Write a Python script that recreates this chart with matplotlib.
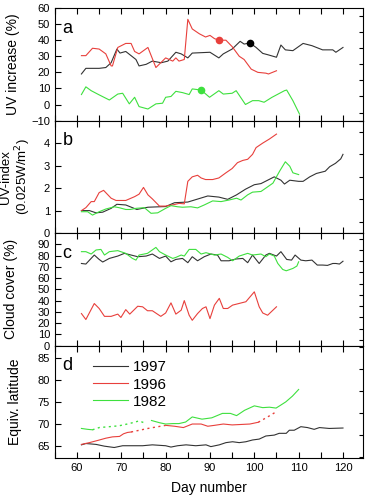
import matplotlib
matplotlib.use("Agg")
import matplotlib.pyplot as plt
from matplotlib.ticker import MultipleLocator

plt.rcParams['font.family'] = ['Liberation Sans', 'DejaVu Sans']

BLACK = '#333333'
RED = '#e8403c'
GREEN = '#3ee03e'

# ---- panel a: UV increase (%)
a_black_day = [61, 62, 65, 66.5, 67.7, 69, 69.7, 71, 73.3, 74, 75.6, 77, 79, 80.5, 82.3, 83.5, 85, 86,
               90, 92, 93, 95, 96.8, 97.7, 99, 100.4, 101.9, 103, 105, 106, 107, 108.7, 111, 113,
               115.4, 117.7, 118.4, 120]
a_black = [19, 22.5, 22.5, 23, 26, 34.5, 32, 33, 28, 24, 25, 27, 26, 27, 32.5, 31.5, 29, 32,
           32.5, 29, 31.5, 34.5, 39.3, 37.6, 38.3, 35.5, 31.8, 31, 29.4, 37, 34, 33.5, 38, 36.6,
           34, 34, 32.5, 35.5]
a_red_day = [61, 62, 63.5, 65, 66.5, 67.7, 68, 69.2, 71, 72.2, 73, 74, 76, 77.8, 80, 81.6, 82.3, 83,
             84.2, 85, 86, 87.6, 89, 90, 91, 92, 93.6, 95, 96.6, 97.7, 99.3, 100.8, 102.6, 103.2, 105]
a_red = [30.4, 30.4, 35, 34.5, 31.5, 24, 24, 35.5, 38, 38, 33, 31.5, 35.5, 23, 29, 27, 29, 27,
         28, 53, 47, 44, 42, 43, 41, 40, 40, 36, 30, 28, 22, 20, 19.5, 19, 21]
a_green_day = [61, 62, 63.2, 65, 67.3, 69.2, 70.3, 71.8, 73, 74, 76, 77.8, 79.3, 80, 81.2, 82.3, 83.8,
               85.3, 86, 88, 89.9, 92, 93, 95, 95.9, 98, 99.6, 101, 102.2, 104, 106.8, 107.3,
               108.7, 110.2]
a_green = [6.2, 11, 8.6, 6, 2.8, 6.5, 7, 0.4, 4.5, -1.3, -2.8, 0.4, 0.8, 4.5, 5, 8.2, 7.4,
           6.2, 9.7, 9, 4.5, 8.6, 6.5, 7, 8.6, 0, 2.4, 2.4, 1.4, 4.5, 8.6, 9, 2.4, -6]
dot_day = [99, 92, 88]
dot_val = [38.3, 40, 9]

# ---- panel b: UV-index
b_black_day = [61, 62.8, 64.3, 65.8, 67.7, 69, 71, 73.5, 76, 80, 82, 85, 87, 89.5, 92, 94, 96, 98,
               100, 101.5, 103, 104.5, 106, 106.8, 108, 110, 111, 112.5, 114, 116, 117, 118.3,
               119.5, 120]
b_black = [1.0, 1.0, 0.9, 0.93, 1.1, 1.28, 1.25, 1.05, 1.15, 1.18, 1.35, 1.38, 1.5, 1.65, 1.6, 1.5,
           1.7, 1.95, 2.15, 2.2, 2.35, 2.5, 2.35, 2.18, 2.35, 2.3, 2.3, 2.5, 2.65, 2.75, 2.95, 3.1,
           3.3, 3.5]
b_red_day = [61, 62, 63.2, 63.9, 65, 66, 67.7, 68.8, 71, 73, 74, 75, 76, 77, 78.6, 80, 82, 83, 84.2,
             85, 86, 87.2, 88, 89, 90.6, 92, 93.6, 95, 96.2, 97.4, 98.5, 99.6, 100.4, 101.9, 103.4, 105]
b_red = [1.0, 1.13, 1.4, 1.4, 1.8, 1.9, 1.55, 1.45, 1.45, 1.62, 1.73, 2.03, 1.7, 1.52, 1.2, 1.2,
         1.27, 1.32, 1.3, 2.3, 2.5, 2.57, 2.45, 2.38, 2.38, 2.45, 2.68, 2.87, 3.13, 3.23, 3.28,
         3.5, 3.8, 4.0, 4.18, 4.4]
b_green_day = [61, 62.4, 63.5, 65, 66.5, 68.4, 69.5, 71, 72, 73.3, 75.2, 76.7, 78.2, 80, 81.2, 82.7,
               83.8, 85.7, 87.2, 88.7, 90.6, 92.5, 94.3, 96, 97, 98.5, 99.6, 101.5, 102.6, 104.2,
               105.7, 107, 108, 108.7, 110]
b_green = [0.95, 0.95, 0.8, 0.95, 1.07, 1.17, 1.13, 1.05, 1.05, 1.1, 1.13, 0.88, 0.9, 1.1, 1.22,
           1.17, 1.15, 1.17, 1.12, 1.25, 1.43, 1.4, 1.47, 1.55, 1.47, 1.7, 1.82, 1.85, 2.0, 2.22,
           2.75, 3.17, 2.97, 2.68, 2.6]

# ---- panel c: cloud cover (%)
c_black_day = [61, 62, 63.9, 65, 65.8, 67.3, 69.2, 70.7, 72.2, 73.7, 75.6, 77, 78.6, 80, 81.2, 82.3,
               83.8, 85, 86, 87.2, 88.7, 90.2, 91.7, 92.5, 94.3, 95.9, 97.4, 98.5, 99.6, 101.1,
               102.6, 103.4, 105, 106, 107.3, 108.4, 109.2, 110.5, 111.6, 113, 114.2, 115.4, 116.5,
               117.7, 118.4, 119.2, 120]
c_black = [73, 72.5, 80.5, 76.6, 74.3, 77.5, 79.6, 82, 80.5, 79, 79.6, 81.4, 77.5, 79.6, 74.5,
           76.6, 77.5, 73.7, 79, 75.4, 79, 81.4, 80.5, 75.4, 75.4, 77, 77.5, 73.7, 80.5, 73,
           80.5, 82, 79.6, 83.5, 76.6, 76, 80.5, 76, 75.4, 76, 71.6, 71.6, 71.3, 73, 73, 72.5, 75]
c_green_day = [61, 62, 63.2, 64.3, 65.4, 66.2, 67.3, 69.2, 71, 72.5, 73.3, 74, 75.9, 77.8, 78.6, 80,
               81.6, 82.3, 83.5, 84.2, 85.3, 86.8, 88, 89.1, 91, 92.5, 94, 95.1, 96.6, 98.5, 99.6,
               101.5, 102.6, 103.4, 104.5, 105.3, 106.4, 107.2, 108.7, 109.6, 110]
c_green = [83.5, 83.5, 81.4, 85, 85.5, 80.5, 83.5, 84.4, 82, 77.5, 76, 80.5, 82, 87.3, 83.5, 80.5,
           77.5, 78.4, 80.5, 79.6, 85.5, 85.5, 81.4, 82.6, 80.5, 81.4, 78.4, 75.4, 79.6, 82, 80.5,
           81.4, 79, 81.4, 79.6, 73, 67.7, 66.5, 68.6, 70.7, 74.5]
c_red_day = [61, 62, 63.9, 65, 66.2, 67.7, 69.2, 69.9, 71, 71.9, 73.7, 74.8, 75.9, 77, 78.9, 80, 81.2,
             82.3, 83.5, 84.2, 85.3, 86, 87.2, 88.3, 89.1, 90, 91, 92.1, 93, 94, 95.1, 96.6, 98.1,
             100, 101.1, 101.9, 103, 104.2, 105]
c_red = [28.5, 23.2, 37.4, 33, 26, 26, 28, 25, 32, 28, 35, 34.5, 31, 31, 26, 29, 38, 28, 31.5, 40,
         27, 22.5, 28.5, 33, 34.5, 24, 36, 42, 33, 33, 36, 37.5, 39, 47.8, 34.5, 29, 27, 31.5, 34.5]

# ---- panel d: equivalent latitude (solid = available, dotted = gaps)
d_black_day = [61, 62, 64.3, 66.2, 68.4, 70.3, 72.6, 74.8, 77, 80, 81.2, 82.7, 84.6, 86.8, 89.1, 90.2,
               92.1, 93.6, 95.1, 96.6, 98.1, 99.6, 101.1, 102.6, 104.5, 105.6, 107.2, 107.9, 109,
               110.5, 112, 113.5, 114.7, 116.9, 120]
d_black = [65.3, 65.6, 65.4, 65.0, 64.7, 65.1, 65.1, 65.1, 65.3, 65.1, 64.8, 65.1, 65.3, 65.1, 65.3,
           64.9, 65.3, 65.8, 66, 65.8, 66, 66.4, 66.6, 67.3, 67.5, 67.9, 67.9, 68.6, 68.6, 69.4,
           69.2, 68.8, 69.2, 69.0, 69.1]
d_red1_day = [61, 62.8, 64.7, 66.5, 68, 69.6, 70.5, 71.4, 72.2]
d_red1 = [65.4, 65.8, 66.3, 66.8, 67.1, 67.2, 67.8, 68.1, 68.2]
d_red_gap1_day = [72.2, 76, 80]
d_red_gap1 = [68.2, 69.0, 69.7]
d_red2_day = [80, 82, 84, 86, 88, 89.5, 91, 93, 95, 97, 99, 100.9]
d_red2 = [69.7, 69.5, 69.2, 70, 70, 69.5, 69.7, 70, 69.8, 69.9, 70, 70.4]
d_red_gap2_day = [100.9, 103, 105]
d_red_gap2 = [70.4, 71.6, 72.8]
d_green1_day = [61, 62.4, 63.5]
d_green1 = [69.0, 68.8, 68.7]
d_green_gap_day = [63.5, 65, 67.3, 69.5, 71.8, 74, 75.1]
d_green_gap = [68.7, 69.2, 69.4, 69.6, 70.1, 70.7, 70.3]
d_green2_day = [76.8, 78.6, 80, 81.6, 83, 84.5, 86, 88.2, 90.4, 92.8, 94.6, 96, 97.8, 100, 101.9,
                103.4, 104.9, 105.7, 107.1, 108.6, 110]
d_green2 = [70.8, 70.3, 70.0, 70.1, 70.1, 70.45, 71.6, 71.1, 71.4, 72.4, 72.4, 71.9, 73.1, 74.1,
            73.7, 73.8, 73.6, 74.1, 75, 76.3, 77.8]

fig = plt.figure(figsize=(3.73, 5.04), dpi=100)
gs = fig.add_gridspec(4, 1, left=0.147, right=0.973, top=0.984, bottom=0.091, hspace=0)
axes = [fig.add_subplot(gs[i]) for i in range(4)]
lw = 0.8

ax = axes[0]
ax.plot(a_black_day, a_black, color=BLACK, lw=lw)
ax.plot(a_red_day, a_red, color=RED, lw=lw)
ax.plot(a_green_day, a_green, color=GREEN, lw=lw)
for d, v, c in zip(dot_day, dot_val, ['black', RED, GREEN]):
    ax.plot(d, v, 'o', color=c, ms=5.5, mec='none')
ax.set_ylim(-10, 60)
ax.yaxis.set_major_locator(MultipleLocator(10))
ax.yaxis.set_minor_locator(MultipleLocator(5))
ax.set_ylabel('UV increase (%)', fontsize=10)
ax.yaxis.set_label_coords(-0.113, 0.5)

ax = axes[1]
ax.plot(b_black_day, b_black, color=BLACK, lw=lw)
ax.plot(b_red_day, b_red, color=RED, lw=lw)
ax.plot(b_green_day, b_green, color=GREEN, lw=lw)
ax.set_ylim(0, 5)
ax.set_yticks([0, 1, 2, 3, 4])
ax.yaxis.set_minor_locator(MultipleLocator(0.5))
ax.set_ylabel('UV-index\n(0.025W/m$^2$)', fontsize=9.5, linespacing=1.05)
ax.yaxis.set_label_coords(-0.072, 0.5)

ax = axes[2]
ax.plot(c_black_day, c_black, color=BLACK, lw=lw)
ax.plot(c_red_day, c_red, color=RED, lw=lw)
ax.plot(c_green_day, c_green, color=GREEN, lw=lw)
ax.set_ylim(0, 100)
ax.set_yticks(range(0, 100, 10))
ax.yaxis.set_minor_locator(MultipleLocator(5))
ax.set_ylabel('Cloud cover (%)', fontsize=10)
ax.yaxis.set_label_coords(-0.118, 0.5)

ax = axes[3]
dots = (0, (1.5, 2.5))
ax.plot(d_black_day, d_black, color=BLACK, lw=lw, label='1997')
ax.plot(d_red1_day, d_red1, color=RED, lw=lw, label='1996')
ax.plot(d_red_gap1_day, d_red_gap1, color=RED, lw=1.0, ls=dots)
ax.plot(d_red2_day, d_red2, color=RED, lw=lw)
ax.plot(d_red_gap2_day, d_red_gap2, color=RED, lw=1.0, ls=dots)
ax.plot(d_green1_day, d_green1, color=GREEN, lw=lw, label='1982')
ax.plot(d_green_gap_day, d_green_gap, color=GREEN, lw=1.0, ls=dots)
ax.plot(d_green2_day, d_green2, color=GREEN, lw=lw)
ax.set_ylim(62.3, 87.7)
ax.set_yticks([65, 70, 75, 80, 85])
ax.yaxis.set_minor_locator(MultipleLocator(2.5))
ax.set_ylabel('Equiv. latitude', fontsize=10)
ax.yaxis.set_label_coords(-0.105, 0.5)
ax.legend(loc='upper left', bbox_to_anchor=(0.08, 0.99), frameon=False, fontsize=11,
          handlelength=2.3, handletextpad=0.3, labelspacing=0.2)
ax.set_xlabel('Day number', fontsize=10, labelpad=6)

for ax, letter in zip(axes, 'abcd'):
    ax.set_xlim(55, 124.5)
    ax.xaxis.set_major_locator(MultipleLocator(10))
    ax.xaxis.set_minor_locator(MultipleLocator(5))
    ax.tick_params(which='both', direction='in', top=True, right=True, labelsize=8, width=0.8)
    ax.tick_params(which='major', length=4)
    ax.tick_params(which='minor', length=3)
    ax.tick_params(axis='x', which='minor', length=4)
    ax.tick_params(axis='y', which='major', left=True, right=False)
    ax.tick_params(axis='y', which='minor', left=False, right=True)
    if letter != 'd':
        ax.tick_params(axis='x', labelbottom=False)
    for s in ax.spines.values():
        s.set_linewidth(0.8)
    ax.text(0.025, 0.82, letter, transform=ax.transAxes, fontsize=13, va='center', ha='left')

fig.savefig('out.png', dpi=100)
